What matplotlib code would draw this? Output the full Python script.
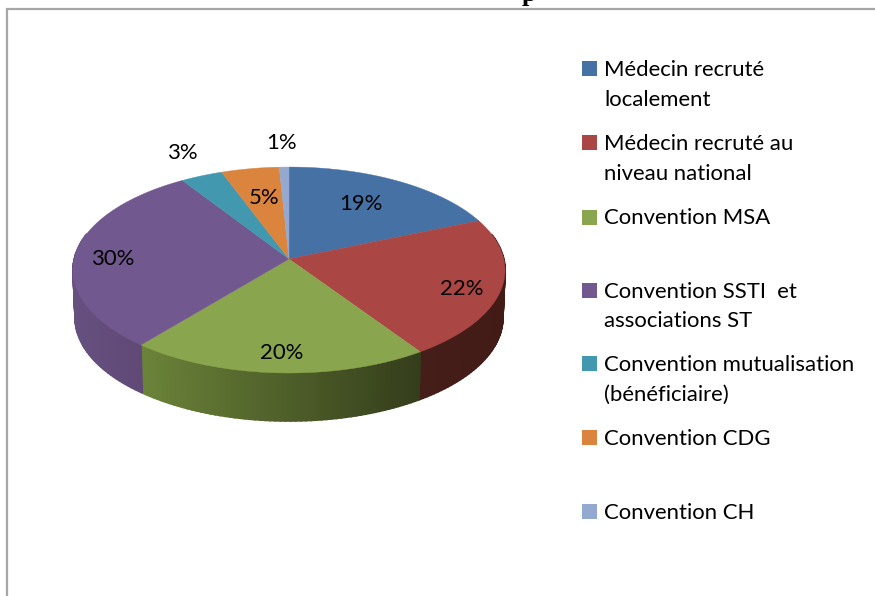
import numpy as np
import matplotlib
matplotlib.use("Agg")
import matplotlib.pyplot as plt
from matplotlib.patches import Rectangle
from matplotlib.colors import to_rgb

categories = ["Médecin recruté\nlocalement", "Médecin recruté au\nniveau national", "Convention MSA",
              "Convention SSTI  et\nassociations ST", "Convention mutualisation\n(bénéficiaire)",
              "Convention CDG", "Convention CH"]
values = [18.6, 22.0, 20.3, 30.0, 3.49, 4.81, 0.8]
colors = ["#4571a5", "#aa4644", "#89a54e", "#71588f", "#4198af", "#db843d", "#93a9cf"]
wall_left = ["#2c4a70", "#451d19", "#6b8339", "#66507f", "#2b6373", "#8f5626", "#5f6f88"]
wall_right = ["#2c4a70", "#421b17", "#343d1b", "#5c4570", "#2b6373", "#8f5626", "#5f6f88"]
label_pos = [(361, 204), (462, 289), (282, 353), (114, 259), (183, 153), (264, 198), (282, 143)]
legend_y = [68.5, 142.5, 217, 290, 363.5, 437.5, 511.5]

FONT = "Lato"
FS = 15.9
W, H = 875, 596
CX, CY, A, B, K, DEPTH = 289, 259, 214.8, 101.8, 0.107, 48

def project(theta, r=1.0, down=0.0, shrink=1.0):
    x, y = r * np.sin(theta), r * np.cos(theta)
    d = 1 + K * y
    return CX + shrink * A * x / d, CY - B * y / d + down

fig = plt.figure(figsize=(W / 100, H / 100), dpi=100)
ax = fig.add_axes([0, 0, 1, 1])
ax.set_xlim(0, W)
ax.set_ylim(H, 0)
ax.axis("off")

# frame
ax.plot([7, 7, W], [H, 9, 9], color="#a6a6a6", lw=1.6, solid_joinstyle="miter")
# clipped title remnant
ax.text(529, 1, "p", family="Liberation Serif", weight="bold", fontsize=19, ha="center",
        va="baseline", color="black")

edges = 2 * np.pi * np.cumsum([0] + values) / sum(values)

# side walls
for i in range(len(values)):
    th = np.linspace(edges[i], edges[i + 1], max(3, int(values[i] * 3)))
    xs, _ = project(th)
    cl, cr = np.array(to_rgb(wall_left[i])), np.array(to_rgb(wall_right[i]))
    x0, x1 = xs.min(), xs.max()
    for a, b in zip(th[:-1], th[1:]):
        if np.cos((a + b) / 2) > 0.25:
            continue
        xa, ya = project(a)
        xb, yb = project(b)
        xc, yc = project(b, down=DEPTH, shrink=0.99)
        xd, yd = project(a, down=DEPTH, shrink=0.99)
        t = ((xa + xb) / 2 - x0) / max(x1 - x0, 1)
        col = cl + (cr - cl) * t
        ax.fill([xa, xb, xc, xd], [ya, yb, yc, yd], color=col, lw=1.2, zorder=2)

# top face
for i, v in enumerate(values):
    th = np.linspace(edges[i], edges[i + 1], max(4, int(v * 6)))
    xs, ys = project(th)
    ax.fill(np.r_[CX, xs], np.r_[CY, ys], color=colors[i], lw=0.3, zorder=3)

# data labels
for v, (x, y) in zip(values, label_pos):
    ax.text(x, y, f"{round(v)}%", family=FONT, fontsize=FS, ha="center", va="center",
            color="black", zorder=5)

# legend
for name, c, y in zip(categories, colors, legend_y):
    ax.add_patch(Rectangle((582, y - 7.5), 15, 15, color=c, lw=0, zorder=4))
    for j, line in enumerate(name.split("\n")):
        ax.text(604, y + 1.5 + j * 29.5, line, family=FONT, fontsize=FS, ha="left", va="center",
                color="black", zorder=5)

fig.savefig("out.png", dpi=100)
